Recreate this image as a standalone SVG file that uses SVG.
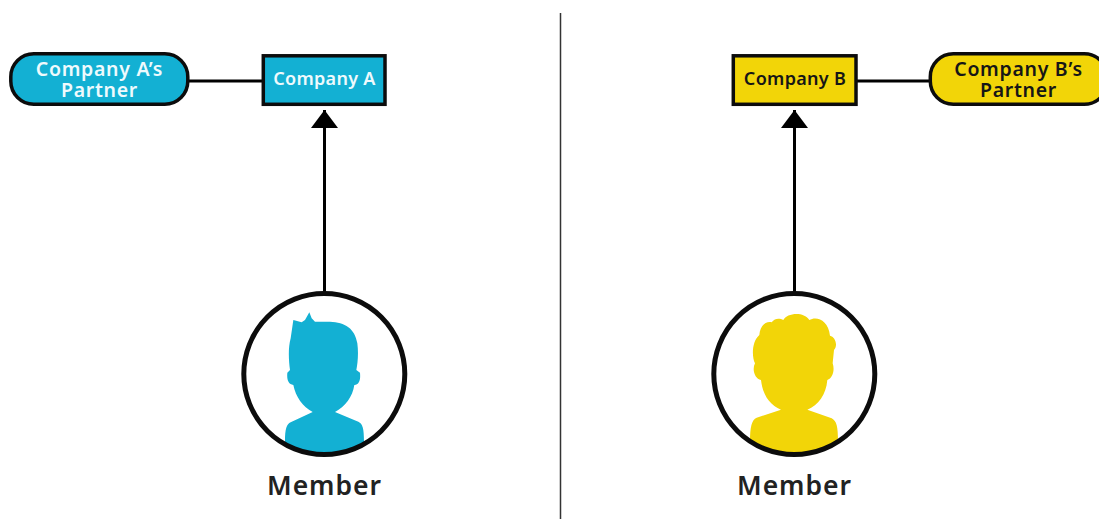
<svg xmlns="http://www.w3.org/2000/svg" width="1099" height="519" viewBox="0 0 1099 519">
<style>
.t{font-family:"Noto Sans","Open Sans",sans-serif;font-weight:600;font-size:18px;letter-spacing:.3px;text-anchor:middle}
.p{font-family:"Noto Sans","Open Sans",sans-serif;font-weight:600;font-size:19.5px;letter-spacing:.7px;text-anchor:middle}
.m{font-family:"Noto Sans","Open Sans",sans-serif;font-weight:600;font-size:26.5px;letter-spacing:.95px;text-anchor:middle;fill:#222}
.a{fill:#13b0d3}.b{fill:#f2d508}
.s{stroke:#0c0c0c;stroke-width:3.5}
.w{fill:#fff}.wt{fill:#eefafd}.k{fill:#161616}
.r{fill:none;stroke:#0c0c0c;stroke-width:5}
.l{stroke:#000;fill:none;stroke-width:3}
</style>
<defs>
<clipPath id="clipA"><circle cx="324.3" cy="374" r="80.5"/></clipPath>
<clipPath id="clipB"><circle cx="794.3" cy="374" r="80.5"/></clipPath>
<marker id="arrow" markerUnits="userSpaceOnUse" markerWidth="19" markerHeight="28" refX="18" refY="14" orient="auto"><path d="M0 .5L18 14L0 27.500Z" fill="#000"/></marker>
</defs>
<g id="connectors">
<path class="l" d="M188 81H263"/>
<path class="l" d="M857 81H931"/>
<path class="l" d="M324.500 292V110" marker-end="url(#arrow)"/>
<path class="l" d="M794.500 292V110" marker-end="url(#arrow)"/>
<path d="M560.500 13V519" stroke="#333" stroke-width="1.500" fill="none"/>
</g>
<g id="partner-a"><rect class="a s" x="10.800" y="53.800" width="177" height="50.500" rx="23"/>
<text class="p wt"><tspan x="99.500" y="75.500">Company A’s</tspan><tspan x="99.500" y="97">Partner</tspan></text></g>
<g id="company-a"><rect class="a s" x="263.300" y="55.800" width="121.700" height="48.500"/>
<text class="t wt" x="324.500" y="85">Company A</text></g>
<g id="company-b"><rect class="b s" x="733.300" y="55.800" width="122.700" height="48.500"/>
<text class="t k" x="795" y="85">Company B</text></g>
<g id="partner-b"><rect class="b s" x="930.300" y="53.800" width="177" height="50.500" rx="23"/>
<text class="p k"><tspan x="1018.500" y="75.500">Company B’s</tspan><tspan x="1018.500" y="97">Partner</tspan></text></g>
<g id="member-a">
<circle class="w" cx="324.300" cy="374" r="80.500"/>
<g clip-path="url(#clipA)"><path class="a" transform="translate(230 285) scale(.33333)" d="M190 105L215 112L225 105L238 82L245 100L255 110H300C345 112 375 130 382 175C386 205 383 235 379 255L390 263C392 285 388 298 373 300C368 335 345 365 315 381L385 410C398 416 402 430 402 470V530H165V470C165 430 170 418 182 412L248 381C218 365 197 335 190 300C175 298 170 285 172 263L180 255C176 225 174 190 182 160Z"/></g>
<circle class="r" cx="324.300" cy="374" r="80.500"/>
<text class="m" x="324.500" y="495">Member</text>
</g>
<g id="member-b">
<circle class="w" cx="794.300" cy="374" r="80.500"/>
<g clip-path="url(#clipB)"><path class="b" transform="translate(700 285) scale(.33333)" d="M250 105C260 85 310 78 328 105C350 92 385 105 390 152C405 155 415 180 402 195L398 235C405 255 398 280 382 285C378 330 355 360 322 374L395 400C410 408 414 425 414 470V530H150V470C150 425 155 405 170 398L243 374C210 360 188 330 183 285C165 282 155 255 165 235C155 215 155 170 178 150C180 120 200 108 215 112C225 98 240 100 250 105Z"/></g>
<circle class="r" cx="794.300" cy="374" r="80.500"/>
<text class="m" x="794.500" y="495">Member</text>
</g>
</svg>
